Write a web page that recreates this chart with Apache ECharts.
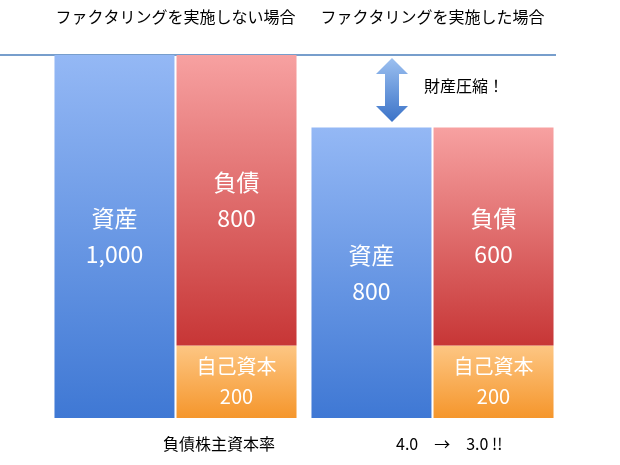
<!DOCTYPE html>
<html><head><meta charset="utf-8">
<script src="https://cdn.jsdelivr.net/npm/echarts@6/dist/echarts.min.js"></script>
<style>html,body{margin:0;padding:0;background:#fff}#c{width:620px;height:465px}</style>
</head><body><div id="c"></div>
<script>
const categories = ['ファクタリングを実施しない場合', 'ファクタリングを実施した場合'];
const assets = [1000, 800];
const liabilities = [800, 600];
const equity = [200, 200];
const ratioLabel = '負債株主資本率';
const ratioText = '4.0　→　3.0 !!';

const font = '"Noto Sans CJK JP", "Noto Sans", sans-serif';
function grad(top, bottom) {
  return new echarts.graphic.LinearGradient(0, 0, 0, 1, [{offset: 0, color: top}, {offset: 1, color: bottom}]);
}
function fmtNum(v) { return v.toLocaleString('en-US'); }

const chart = echarts.init(document.getElementById('c'));
chart.setOption({
  animation: false,
  textStyle: {fontFamily: font},
  grid: {left: 47, right: 59, top: 55, bottom: 47},
  xAxis: {type: 'category', data: categories, position: 'top',
    axisLine: {show: false}, axisTick: {show: false},
    axisLabel: {show: true, interval: 0, color: '#000', fontSize: 16, margin: 30, fontFamily: font}},
  yAxis: {type: 'value', min: 0, max: 1000, show: false},
  series: [
    {name: '資産', type: 'bar', data: assets, barWidth: 120, barGap: '1.7%',
      itemStyle: {color: grad('#94b8f5', '#3f78d4')},
      label: {show: true, position: 'inside', color: '#fff', fontSize: 23, lineHeight: 36, fontFamily: font,
        formatter: p => '資産\n' + fmtNum(p.value)}},
    {name: '自己資本', type: 'bar', stack: 'le', data: equity, barWidth: 120,
      itemStyle: {color: grad('#fdc683', '#f5962c')},
      label: {show: true, position: 'inside', color: '#fff', fontSize: 20, lineHeight: 30, fontFamily: font,
        formatter: p => '自己資本\n' + fmtNum(p.value)}},
    {name: '負債', type: 'bar', stack: 'le', data: liabilities, barWidth: 120,
      itemStyle: {color: grad('#f7a1a1', '#c73636')},
      label: {show: true, position: 'inside', color: '#fff', fontSize: 23, lineHeight: 36, fontFamily: font,
        formatter: p => '負債\n' + fmtNum(p.value)}}
  ],
  graphic: [
    {type: 'line', shape: {x1: 0, y1: 55, x2: 556, y2: 55}, style: {stroke: '#4a7ebb', lineWidth: 1.5}},
    {type: 'polygon', shape: {points: [[392,58],[408,74],[399,74],[399,106],[408,106],[392,122],[376,106],[385,106],[385,74],[376,74]]},
      style: {fill: grad('#9cc0f0', '#3b73c8')}},
    {type: 'text', left: 424, top: 78, style: {text: '財産圧縮！', fontSize: 16, fill: '#000', fontFamily: font}},
    {type: 'text', left: 163, top: 436, style: {text: ratioLabel, fontSize: 16, fill: '#000', fontFamily: font}},
    {type: 'text', left: 396, top: 436, style: {text: ratioText, fontSize: 16, fill: '#000', fontFamily: font}}
  ]
});
</script></body></html>
